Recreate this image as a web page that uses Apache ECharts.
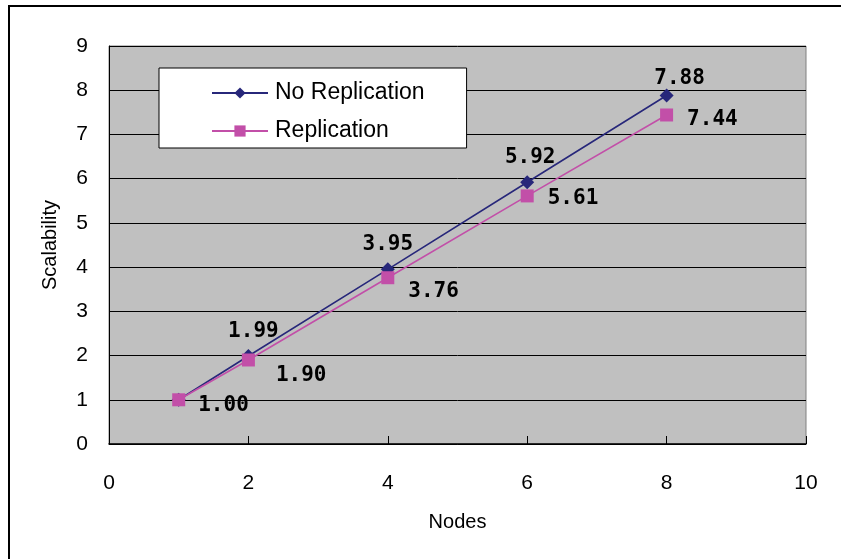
<!DOCTYPE html>
<html>
<head>
<meta charset="utf-8">
<script src="https://cdn.jsdelivr.net/npm/echarts@6/dist/echarts.min.js"></script>
<style>
  html, body { margin: 0; padding: 0; background: #fff; }
  #chart { width: 841px; height: 559px; }
</style>
</head>
<body>
<div id="chart"></div>
<script>
// Node counts and measured scalability for both configurations
const nodes = [1, 2, 4, 6, 8];
const noReplication = [1.00, 1.99, 3.95, 5.92, 7.88];
const replication = [1.00, 1.90, 3.76, 5.61, 7.44];
const xTicks = [0, 2, 4, 6, 8, 10];
const yTicks = [0, 1, 2, 3, 4, 5, 6, 7, 8, 9];

const seriesNames = ['No Replication', 'Replication'];
const blue = '#27277a';
const pink = '#c24fa8';
const labelFont = {
  fontFamily: 'DejaVu Sans Mono',
  fontWeight: 'bold',
  fontSize: 21,
  color: '#000'
};

// per-point nudges for the value labels so they sit clear of the lines
const upperLabelShift = [[0, 0], [5, 0], [0, 0], [3, 0], [13, 8]];
const lowerLabelShift = [[-5, 6], [3, 16], [-4, 14], [-4, 3], [-4, 5]];

function points(xs, ys, shifts) {
  return xs.map((x, i) => ({ value: [x, ys[i]], label: { offset: shifts[i] } }));
}

const chart = echarts.init(document.getElementById('chart'), null, { renderer: 'canvas' });

chart.setOption({
  animation: false,
  backgroundColor: '#fff',
  grid: {
    left: 109, top: 46, right: 35, bottom: 115,
    show: true,
    backgroundColor: '#c0c0c0',
    borderColor: '#808080',
    borderWidth: 1
  },
  xAxis: {
    type: 'value',
    min: xTicks[0],
    max: xTicks[xTicks.length - 1],
    interval: 2,
    name: 'Nodes',
    nameLocation: 'middle',
    nameGap: 68,
    nameTextStyle: { fontFamily: 'Liberation Sans', fontSize: 20, color: '#000' },
    axisLine: { show: true, onZero: false, lineStyle: { color: '#000', width: 1.5 } },
    axisTick: { show: true, inside: true, length: 8, lineStyle: { color: '#000' } },
    axisLabel: { margin: 29, fontFamily: 'Liberation Sans', fontSize: 21, color: '#000' },
    splitLine: { show: false }
  },
  yAxis: {
    type: 'value',
    min: yTicks[0],
    max: yTicks[yTicks.length - 1],
    interval: 1,
    name: 'Scalability',
    nameLocation: 'middle',
    nameGap: 49,
    nameTextStyle: { fontFamily: 'Liberation Sans', fontSize: 20, color: '#000' },
    axisLine: { show: true, lineStyle: { color: '#000', width: 1 } },
    axisTick: { show: true, inside: true, length: 8, lineStyle: { color: '#000' } },
    axisLabel: { margin: 21, fontFamily: 'Liberation Sans', fontSize: 21, color: '#000' },
    splitLine: { show: true, lineStyle: { color: '#000', width: 1 } }
  },
  legend: {
    orient: 'vertical',
    left: 159,
    top: 68,
    padding: [13, 42, 5, 52],
    itemGap: 14,
    itemWidth: 56,
    itemHeight: 14,
    backgroundColor: '#fff',
    borderColor: '#000',
    borderWidth: 1,
    borderRadius: 0,
    data: seriesNames,
    textStyle: { fontFamily: 'Liberation Sans', fontSize: 23, lineHeight: 24, color: '#000', padding: [0, 0, 0, 2] }
  },
  series: [
    {
      name: seriesNames[0],
      type: 'line',
      data: points(nodes, noReplication, upperLabelShift),
      symbol: 'diamond',
      symbolSize: 14,
      color: blue,
      lineStyle: { color: blue, width: 1.6 },
      itemStyle: { color: blue },
      z: 3,
      label: {
        show: true,
        position: 'top',
        distance: 7,
        ...labelFont,
        formatter: p => p.dataIndex === 0 ? '' : p.value[1].toFixed(2)
      }
    },
    {
      name: seriesNames[1],
      type: 'line',
      data: points(nodes, replication, lowerLabelShift),
      symbol: 'rect',
      symbolSize: 13,
      color: pink,
      lineStyle: { color: pink, width: 1.6 },
      itemStyle: { color: pink },
      z: 4,
      label: {
        show: true,
        position: 'right',
        distance: 18,
        ...labelFont,
        formatter: p => p.value[1].toFixed(2)
      }
    }
  ],
  graphic: [
    {
      type: 'rect',
      shape: { x: 9, y: 6, width: 900, height: 700 },
      style: { fill: 'none', stroke: '#000', lineWidth: 2 },
      silent: true
    }
  ]
});
</script>
</body>
</html>
